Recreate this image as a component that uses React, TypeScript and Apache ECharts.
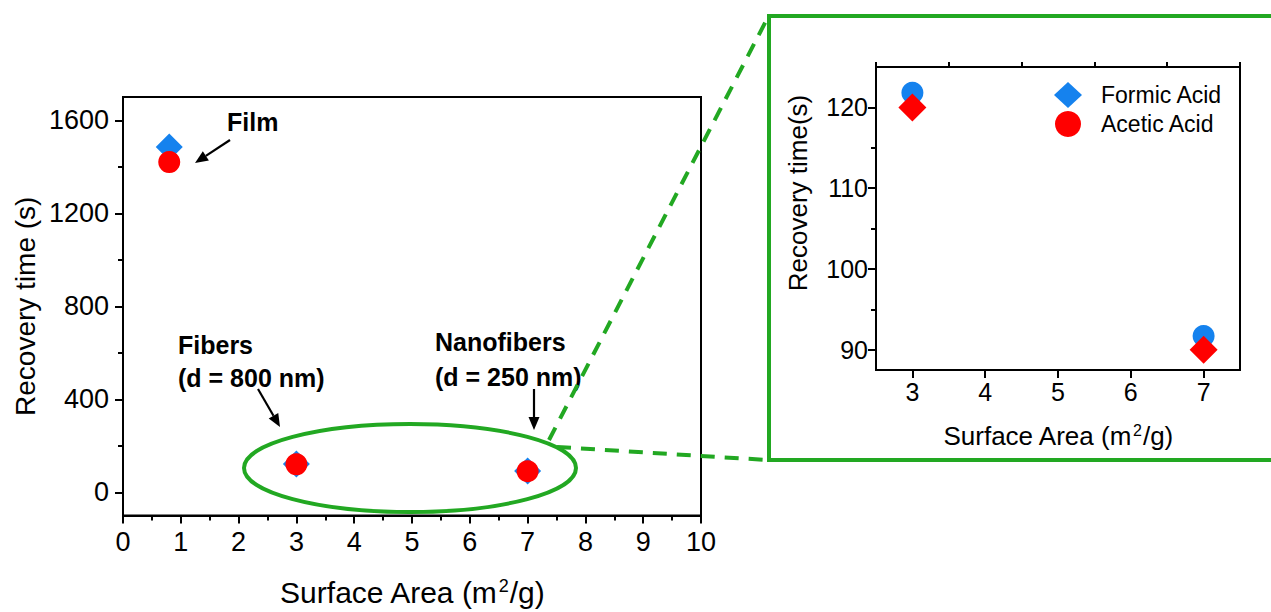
import React, { useEffect, useRef } from "react";
import * as echarts from "echarts";

// ---- Data ----
const surfaceArea = [0.8, 3, 7];
const formicAcid = [1485, 121.8, 91.7];
const aceticAcid = [1420, 120, 90];

const mainXTicks = [0, 1, 2, 3, 4, 5, 6, 7, 8, 9, 10];
const mainYTicks = [0, 400, 800, 1200, 1600];
const mainYMinor = [200, 600, 1000, 1400];
const insetXTicks = [3, 4, 5, 6, 7];
const insetXMinor = [2.5, 3.5, 4.5, 5.5, 6.5, 7.5];
const insetYTicks = [90, 100, 110, 120];
const insetYMinor = [95, 105, 115];

const FONT = "'Liberation Sans', Arial, Helvetica, sans-serif";
const BLUE = "#1582ee";
const RED = "#ff0000";
const GREEN = "#22a822";

function arrow(x1: number, y1: number, x2: number, y2: number) {
  const dx = x2 - x1, dy = y2 - y1;
  const len = Math.hypot(dx, dy);
  const ux = dx / len, uy = dy / len;
  const hl = 13, hw = 5.5;
  const bx = x2 - ux * hl, by = y2 - uy * hl;
  const px = -uy, py = ux;
  return [
    { type: "line", shape: { x1, y1, x2: bx, y2: by }, style: { stroke: "#000", lineWidth: 2.2 } },
    {
      type: "polygon",
      shape: { points: [[x2, y2], [bx + px * hw, by + py * hw], [bx - px * hw, by - py * hw]] },
      style: { fill: "#000" },
    },
  ];
}

export default function App() {
  const ref = useRef<HTMLDivElement>(null);
  useEffect(() => {
    if (!ref.current) return;
    const chart = echarts.init(ref.current, null, { renderer: "svg" });
    const pts = (ys: number[]) => surfaceArea.map((x, i) => [x, ys[i]]);
    const insetPts = (ys: number[]) => pts(ys).filter((p) => p[0] >= 2.5 && p[0] <= 7.5);

    const axisLine = { show: true, onZero: false, lineStyle: { color: "#000", width: 2 } };
    const labelStyle = { color: "#000", fontFamily: FONT, formatter: (v: number) => String(v) };

    const annText = (text: string, x: number, y: number) => ({
      type: "text",
      x,
      y,
      style: { text, fill: "#000", font: `bold 25px ${FONT}`, textVerticalAlign: "middle" },
    });

    chart.setOption({
      animation: false,
      backgroundColor: "#fff",
      textStyle: { fontFamily: FONT },
      grid: [
        { left: 123, top: 97, width: 578, height: 423, show: true, borderColor: "#000", borderWidth: 2 },
        { left: 876, top: 67, width: 364, height: 303, show: true, borderColor: "#000", borderWidth: 2 },
      ],
      legend: {
        data: ["Formic Acid", "Acetic Acid"],
        orient: "vertical",
        left: 1054,
        top: 82,
        padding: 0,
        itemWidth: 28,
        itemHeight: 26,
        itemGap: 3,
        textStyle: { fontSize: 23, color: "#000", fontFamily: FONT, padding: [0, 0, 0, 14] },
      },
      xAxis: [
        {
          type: "value", gridIndex: 0, min: 0, max: 10, interval: 1,
          axisLine,
          axisTick: { show: true, inside: false, length: 8, lineStyle: { color: "#000", width: 2 } },
          minorTick: { show: true, splitNumber: 2, length: 5, lineStyle: { color: "#000", width: 2 } },
          splitLine: { show: false },
          axisLabel: { ...labelStyle, fontSize: 27, margin: 13, customValues: mainXTicks },
          name: "Surface Area (m{sup|2}/g)",
          nameLocation: "middle",
          nameGap: 61,
          nameTextStyle: {
            fontSize: 30, color: "#000", fontFamily: FONT,
            rich: { sup: { fontSize: 18, verticalAlign: "top", padding: [0, 1, 13, 1], color: "#000", fontFamily: FONT } },
          },
        },
        {
          type: "value", gridIndex: 1, min: 2.5, max: 7.5,
          axisLine,
          axisTick: { show: true, length: 8, lineStyle: { color: "#000", width: 2 }, customValues: insetXTicks },
          splitLine: { show: false },
          axisLabel: { ...labelStyle, fontSize: 25, margin: 9, customValues: insetXTicks },
          name: "Surface Area (m{sup|2}/g)",
          nameLocation: "middle",
          nameGap: 52,
          nameTextStyle: {
            fontSize: 26, color: "#000", fontFamily: FONT,
            rich: { sup: { fontSize: 16, verticalAlign: "top", padding: [0, 1, 11, 1], color: "#000", fontFamily: FONT } },
          },
        },
        {
          type: "value", gridIndex: 1, min: 2.5, max: 7.5,
          axisLine: { show: false },
          axisTick: { show: true, length: 5, lineStyle: { color: "#000", width: 2 }, customValues: insetXMinor },
          splitLine: { show: false },
          axisLabel: { show: false },
        },
      ],
      yAxis: [
        {
          type: "value", gridIndex: 0, min: -100, max: 1700, position: "left",
          axisLine,
          axisTick: { show: true, length: 8, lineStyle: { color: "#000", width: 2 }, customValues: mainYTicks },
          splitLine: { show: false },
          axisLabel: { ...labelStyle, fontSize: 27, margin: 14, customValues: mainYTicks },
          name: "Recovery time (s)",
          nameLocation: "middle",
          nameGap: 98,
          nameTextStyle: { fontSize: 28, color: "#000", fontFamily: FONT, verticalAlign: "middle" },
        },
        {
          type: "value", gridIndex: 0, min: -100, max: 1700, position: "left",
          axisLine: { show: false },
          axisTick: { show: true, length: 5, lineStyle: { color: "#000", width: 2 }, customValues: mainYMinor },
          splitLine: { show: false },
          axisLabel: { show: false },
        },
        {
          type: "value", gridIndex: 1, min: 87.5, max: 125, position: "left",
          axisLine,
          axisTick: { show: true, length: 8, lineStyle: { color: "#000", width: 2 }, customValues: insetYTicks },
          splitLine: { show: false },
          axisLabel: { ...labelStyle, fontSize: 25, margin: 8, customValues: insetYTicks },
        },
        {
          type: "value", gridIndex: 1, min: 87.5, max: 125, position: "left",
          axisLine: { show: false },
          axisTick: { show: true, length: 5, lineStyle: { color: "#000", width: 2 }, customValues: insetYMinor },
          splitLine: { show: false },
          axisLabel: { show: false },
        },
      ],
      series: [
        {
          name: "Formic Acid", type: "scatter", xAxisIndex: 0, yAxisIndex: 0,
          symbol: "diamond", symbolSize: 27, itemStyle: { color: BLUE, opacity: 1 }, data: pts(formicAcid),
        },
        {
          name: "Acetic Acid", type: "scatter", xAxisIndex: 0, yAxisIndex: 0,
          symbol: "circle", symbolSize: 22, itemStyle: { color: RED, opacity: 1 }, data: pts(aceticAcid),
        },
        {
          name: "Formic Acid (zoom)", type: "scatter", xAxisIndex: 1, yAxisIndex: 2,
          symbol: "circle", symbolSize: 22, itemStyle: { color: BLUE, opacity: 1 }, data: insetPts(formicAcid),
        },
        {
          name: "Acetic Acid (zoom)", type: "scatter", xAxisIndex: 1, yAxisIndex: 2,
          symbol: "diamond", symbolSize: 28, itemStyle: { color: RED, opacity: 1 }, data: insetPts(aceticAcid),
        },
      ],
      graphic: [
        {
          type: "text", x: 798, y: 193, rotation: Math.PI / 2,
          style: { text: "Recovery time(s)", fill: "#000", font: `26px ${FONT}`, textAlign: "center", textVerticalAlign: "middle" },
        },
        {
          type: "ellipse", shape: { cx: 410, cy: 468, rx: 166, ry: 44 },
          style: { fill: "none", stroke: GREEN, lineWidth: 4 }, z: 10,
        },
        {
          type: "rect", shape: { x: 769, y: 16, width: 560, height: 444 },
          style: { fill: "none", stroke: GREEN, lineWidth: 4 }, z: 10,
        },
        {
          type: "line", shape: { x1: 549, y1: 440, x2: 767, y2: 19 },
          style: { stroke: GREEN, lineWidth: 4, lineDash: [14, 10] }, z: 10,
        },
        {
          type: "line", shape: { x1: 557, y1: 447, x2: 767, y2: 460 },
          style: { stroke: GREEN, lineWidth: 4, lineDash: [14, 10] }, z: 10,
        },
        annText("Film", 227, 122),
        annText("Fibers", 178, 345),
        annText("(d = 800 nm)", 178, 378),
        annText("Nanofibers", 435, 342),
        annText("(d = 250 nm)", 435, 377),
        ...arrow(230, 140, 195, 163),
        ...arrow(258, 389, 280, 427),
        ...arrow(534, 389, 534, 430),
      ],
    });
    return () => chart.dispose();
  }, []);
  return (
    <div
      ref={ref}
      style={{ position: "fixed", left: 0, top: 0, width: 1271, height: 612, background: "#fff" }}
    />
  );
}
